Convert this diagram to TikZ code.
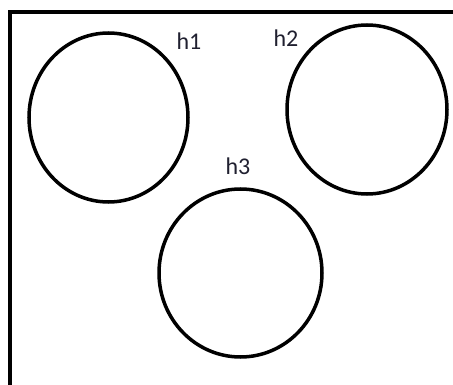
\documentclass[tikz,border=0pt]{standalone}
\usepackage{fontspec}
\setmainfont{Carlito}
\usetikzlibrary{shapes.geometric}
\definecolor{txt}{HTML}{202030}
\begin{document}
\begin{tikzpicture}[x=1pt,y=-1pt,
  ring/.style={ellipse, draw=black, line width=3.5pt, inner sep=0pt},
  lbl/.style={font=\fontsize{24}{28}\selectfont, text=txt, inner sep=0pt}]
\useasboundingbox (0,0) rectangle (453,385);
\clip (0,0) rectangle (453,385);
\fill[white] (0,0) rectangle (453,385);
\draw[line width=4pt] (460,12) -- (10,12) -- (10,395);
\node[ring, minimum width=159pt, minimum height=169pt] (c1) at (108.5,117.5) {};
\node[ring, minimum width=160pt, minimum height=169pt] (c2) at (367,109.5) {};
\node[ring, minimum width=163pt, minimum height=168pt] (c3) at (240.5,273) {};
\node[lbl] (h1) at (189,41) {h1};
\node[lbl] (h2) at (286,38) {h2};
\node[lbl] (h3) at (238,166) {h3};
\end{tikzpicture}
\end{document}
